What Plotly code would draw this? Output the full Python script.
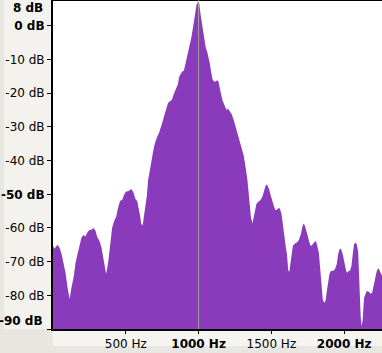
import plotly.graph_objects as go

# Spectrum data (frequency in Hz, level in dB)
freq_hz = [0, 9, 31, 45, 59, 73, 86, 100, 114, 127, 141, 155, 168, 182, 196, 210, 223, 237, 251, 264,
           278, 292, 305, 319, 333, 347, 356, 365, 379, 392, 406, 420, 434, 447, 461, 475, 488, 502, 516, 529,
           538, 552, 566, 579, 589, 598, 607, 616, 625, 634, 644, 653, 662, 671, 680, 689, 699, 708, 716, 726,
           735, 749, 762, 776, 790, 803, 817, 831, 844, 858, 867, 877, 886, 899, 913, 922, 931, 940, 949, 959,
           968, 977, 986, 995, 1004, 1014, 1023, 1031, 1041, 1050, 1059, 1068, 1077, 1086, 1096, 1105, 1114, 1127, 1137, 1146,
           1155, 1164, 1173, 1182, 1192, 1201, 1210, 1228, 1242, 1255, 1269, 1283, 1297, 1310, 1324, 1336, 1347, 1360, 1370, 1379,
           1388, 1397, 1411, 1425, 1438, 1452, 1461, 1470, 1484, 1493, 1502, 1511, 1520, 1529, 1543, 1552, 1562, 1570, 1579, 1589,
           1598, 1607, 1616, 1623, 1630, 1639, 1648, 1662, 1675, 1689, 1703, 1712, 1721, 1730, 1740, 1749, 1757, 1767, 1776, 1785,
           1799, 1808, 1817, 1826, 1836, 1844, 1853, 1863, 1872, 1881, 1890, 1899, 1908, 1922, 1936, 1949, 1959, 1968, 1977, 1986,
           1995, 2004, 2014, 2023, 2031, 2041, 2050, 2059, 2068, 2077, 2086, 2096, 2105, 2114, 2121, 2127, 2137, 2146, 2155, 2168,
           2182, 2192, 2201, 2209, 2219, 2228, 2237, 2246, 2260]
level_db = [-65.3, -66.2, -65.0, -65.9, -67.7, -70.7, -73.3, -77.7, -81.1, -77.7, -74.8, -70.3, -67.3, -65.3, -62.8, -62.1, -62.5, -61.3, -60.6, -60.5,
            -60.0, -60.8, -62.8, -63.8, -65.8, -69.8, -72.3, -73.7, -70.3, -64.3, -60.0, -57.9, -56.7, -54.0, -51.9, -51.7, -50.1, -49.2, -49.1, -48.7,
            -48.4, -49.4, -51.4, -52.1, -53.9, -56.4, -58.8, -59.3, -56.4, -53.4, -50.7, -45.9, -43.4, -41.9, -39.7, -37.0, -35.0, -33.7, -32.8, -32.0,
            -31.0, -29.0, -27.0, -25.0, -22.9, -22.4, -21.9, -20.1, -18.9, -17.3, -15.1, -14.1, -13.6, -13.3, -10.6, -9.2, -8.1, -6.2, -3.7, -1.2,
            1.3, 3.8, 6.3, 7.0, 6.8, 3.3, 0.8, -2.2, -4.7, -6.6, -7.7, -9.3, -11.1, -13.6, -15.9, -16.4, -16.6, -16.1, -16.6, -18.6,
            -20.6, -22.1, -23.0, -24.1, -25.0, -24.5, -25.0, -26.2, -28.0, -30.1, -32.5, -34.3, -36.4, -38.5, -42.3, -45.9, -51.0, -56.9, -58.7, -56.4,
            -54.4, -52.9, -52.2, -51.7, -50.7, -48.9, -47.4, -47.1, -48.4, -49.9, -51.4, -52.7, -53.9, -54.7, -54.4, -53.9, -54.7, -55.9, -59.3, -62.3,
            -65.3, -67.8, -72.6, -73.0, -70.8, -66.8, -65.3, -64.6, -64.3, -63.6, -61.8, -59.8, -58.7, -59.3, -60.8, -62.3, -63.6, -65.1, -65.3, -64.8,
            -64.0, -64.0, -65.3, -67.3, -72.3, -76.7, -81.2, -82.2, -81.7, -78.7, -75.2, -73.7, -72.8, -72.8, -72.3, -70.8, -67.8, -66.3, -66.1, -67.1,
            -68.8, -71.3, -72.8, -73.3, -72.8, -72.6, -71.3, -67.8, -64.8, -64.3, -64.8, -66.8, -78.7, -86.7, -89.2, -87.2, -80.7, -79.7, -78.7, -78.9,
            -79.5, -79.2, -77.7, -75.9, -73.7, -72.3, -72.0, -72.8, -74.2]

y_tick_vals = [8, 0, -10, -20, -30, -40, -50, -60, -70, -80, -90]
y_tick_text = ["", "<b>0 dB</b>", "-10 dB", "-20 dB", "-30 dB", "-40 dB", "<b>-50 dB</b>",
               "-60 dB", "-70 dB", "-80 dB", ""]
x_tick_vals = [500, 1000, 1500, 2000]
x_tick_text = ["500 Hz", "<b>1000 Hz</b>", "1500 Hz", "<b>2000 Hz</b>"]
cursor_hz = 1000
x_range = [0, 2260]
y_range = [-90, 7.7]

PURPLE = "#893bbc"
FONT = dict(family="DejaVu Sans", size=12, color="#000000")

fig = go.Figure()
fig.add_trace(go.Scatter(x=[x_range[0], x_range[1]], y=[y_range[0], y_range[0]], mode="lines",
                         line=dict(width=0), hoverinfo="skip", showlegend=False))
fig.add_trace(go.Scatter(x=freq_hz, y=level_db, mode="lines", line=dict(width=0, color=PURPLE),
                         fill="tonexty", fillcolor=PURPLE, showlegend=False))

fig.update_layout(
    width=382, height=353,
    margin=dict(l=53, r=0, t=0, b=24),
    paper_bgcolor="#e8e6e1",
    plot_bgcolor="#ffffff",
    font=FONT,
    showlegend=False,
    xaxis=dict(range=x_range, tickvals=x_tick_vals, ticktext=x_tick_text, ticks="outside", ticklen=3,
               tickcolor="#000", showgrid=False, zeroline=False, showline=True, linecolor="#000",
               linewidth=2, mirror=False, tickfont=FONT),
    yaxis=dict(range=y_range, tickvals=y_tick_vals, ticktext=y_tick_text, ticks="outside", ticklen=4,
               tickcolor="#000", showgrid=False, zeroline=False, showline=True, linecolor="#000",
               linewidth=2, tickfont=FONT),
    shapes=[
        dict(type="rect", xref="paper", yref="paper", x0=-49 / 329, x1=0, y0=0, y1=1,
             fillcolor="#f3f2ee", line=dict(width=0), layer="below"),
        dict(type="rect", xref="paper", yref="paper", x0=0, x1=1, y0=-17 / 329, y1=0,
             fillcolor="#f5f4f1", line=dict(width=0), layer="below"),
        dict(type="line", xref="paper", yref="paper", x0=0, x1=1, y0=1, y1=1,
             line=dict(color="#000", width=2)),
        dict(type="line", xref="x", yref="paper", x0=cursor_hz, x1=cursor_hz, y0=0, y1=1,
             line=dict(color="#9fa597", width=1)),
    ],
    annotations=[
        dict(text="<b>8 dB</b>", xref="paper", yref="paper", x=0, y=1 - 8 / 329, xanchor="right",
             yanchor="middle", xshift=-8, showarrow=False, font=FONT),
        dict(text="<b>-90 dB</b>", xref="paper", yref="paper", x=0, y=8.5 / 329, xanchor="right",
             yanchor="middle", xshift=-8, showarrow=False, font=FONT),
    ],
)

fig.write_html("out.html", config={"displayModeBar": False},
               post_script="document.body.style.margin='0';document.body.style.overflow='hidden';")
